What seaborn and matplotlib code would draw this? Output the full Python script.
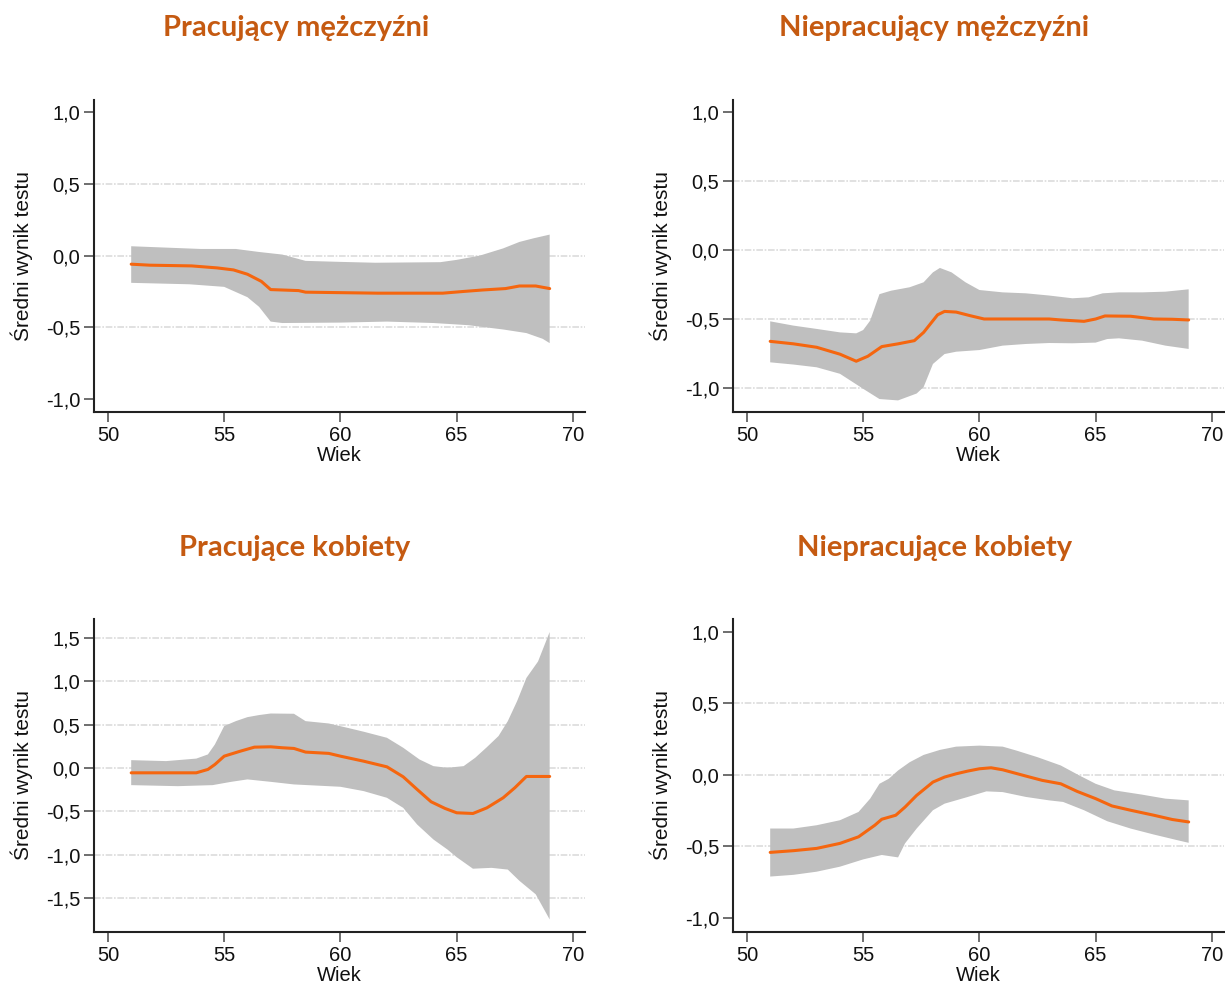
import numpy as np
import matplotlib
matplotlib.use("Agg")
import matplotlib.pyplot as plt
import seaborn as sns

# ---- Pracujący mężczyźni ----
pm_age = [51, 51.8, 53.6, 54.7, 55.4, 56.0, 56.6, 57.0, 58.2, 58.5, 61.6, 64.4, 65.3, 66.1, 67.1, 67.7, 68.4, 69]
pm_mean = [-0.06, -0.067, -0.072, -0.086, -0.10, -0.13, -0.18, -0.237, -0.244, -0.255, -0.262, -0.262, -0.25, -0.24, -0.23, -0.212, -0.212, -0.23]
pm_hi_age = [51, 54, 55.5, 56.5, 57.5, 58.5, 60, 61.5, 64.3, 65, 66, 67, 67.7, 68.3, 69]
pm_hi = [0.065, 0.046, 0.046, 0.025, 0.007, -0.037, -0.044, -0.05, -0.046, -0.03, 0.0, 0.05, 0.095, 0.12, 0.146]
pm_lo_age = [51, 53.5, 55, 56, 56.5, 57, 57.5, 60, 62, 64, 65.5, 67, 68, 68.7, 69]
pm_lo = [-0.19, -0.2, -0.218, -0.29, -0.357, -0.46, -0.47, -0.467, -0.46, -0.47, -0.485, -0.515, -0.54, -0.58, -0.61]

# ---- Niepracujący mężczyźni ----
nm_age = [51, 52, 53, 54, 54.7, 55.2, 55.8, 56.5, 57.2, 57.6, 58.2, 58.5, 59, 59.6, 60.2, 63, 63.5, 64.5, 65, 65.4, 66.5, 67.5, 68.3, 69]
nm_mean = [-0.662, -0.68, -0.705, -0.755, -0.806, -0.77, -0.70, -0.68, -0.657, -0.597, -0.47, -0.445, -0.45, -0.476, -0.5, -0.5, -0.507, -0.517, -0.5, -0.478, -0.48, -0.5, -0.502, -0.507]
nm_hi_age = [51, 52, 53, 54, 54.7, 55, 55.3, 55.7, 56.2, 57, 57.6, 58, 58.3, 58.8, 59.4, 60, 61, 62, 63, 64, 64.7, 65.3, 66, 67, 68, 69]
nm_hi = [-0.517, -0.548, -0.572, -0.597, -0.604, -0.58, -0.512, -0.32, -0.295, -0.27, -0.234, -0.162, -0.13, -0.162, -0.234, -0.29, -0.307, -0.314, -0.33, -0.35, -0.343, -0.314, -0.307, -0.307, -0.302, -0.285]
nm_lo_age = [51, 52, 53, 54, 55, 55.7, 56.5, 57.3, 57.6, 58, 58.5, 59, 60, 61, 62, 63, 64, 65, 65.5, 66, 67, 68, 69]
nm_lo = [-0.814, -0.83, -0.85, -0.897, -1.006, -1.08, -1.09, -1.04, -0.993, -0.826, -0.754, -0.737, -0.725, -0.693, -0.681, -0.674, -0.676, -0.671, -0.645, -0.64, -0.657, -0.693, -0.717]

# ---- Pracujące kobiety ----
pk_age = [51, 53.8, 54.3, 54.6, 55, 55.7, 56.3, 57, 57.5, 58, 58.5, 59.5, 60, 61, 62, 62.7, 63.3, 63.9, 64.5, 65, 65.7, 66.3, 67, 67.5, 68, 69]
pk_mean = [-0.054, -0.054, -0.015, 0.042, 0.138, 0.196, 0.242, 0.246, 0.235, 0.227, 0.185, 0.17, 0.138, 0.08, 0.015, -0.1, -0.246, -0.388, -0.465, -0.515, -0.523, -0.458, -0.342, -0.227, -0.096, -0.096]
pk_hi_age = [51, 52.5, 53.8, 54.3, 54.6, 55, 55.5, 56, 56.5, 57, 58, 58.5, 59.5, 60.3, 61, 62, 62.7, 63.4, 64, 64.6, 65.3, 65.8, 66.3, 66.8, 67.2, 67.6, 68, 68.5, 69]
pk_hi = [0.092, 0.081, 0.11, 0.158, 0.273, 0.485, 0.542, 0.588, 0.612, 0.63, 0.627, 0.542, 0.515, 0.465, 0.42, 0.35, 0.235, 0.1, 0.023, 0.004, 0.023, 0.12, 0.242, 0.37, 0.542, 0.773, 1.04, 1.23, 1.57]
pk_lo_age = [51, 53, 54.5, 55.3, 56, 57, 58, 60, 61, 62, 62.7, 63.3, 64, 64.6, 65, 65.7, 66.5, 67.2, 67.7, 68.4, 69]
pk_lo = [-0.196, -0.208, -0.196, -0.158, -0.13, -0.158, -0.188, -0.215, -0.265, -0.342, -0.458, -0.65, -0.823, -0.938, -1.027, -1.16, -1.15, -1.17, -1.3, -1.455, -1.745]

# ---- Niepracujące kobiety ----
nk_age = [51, 52, 53, 54, 54.8, 55.5, 55.8, 56.4, 56.8, 57.3, 58, 58.5, 59, 59.5, 60, 60.5, 61, 62, 62.7, 63.5, 64.2, 65, 65.7, 66.5, 67.5, 68.3, 69]
nk_mean = [-0.543, -0.531, -0.515, -0.48, -0.434, -0.353, -0.311, -0.283, -0.226, -0.144, -0.051, -0.016, 0.007, 0.026, 0.042, 0.049, 0.035, -0.009, -0.039, -0.063, -0.116, -0.167, -0.218, -0.248, -0.283, -0.313, -0.33]
nk_hi_age = [51, 52, 53, 54, 54.8, 55.3, 55.7, 56.1, 56.5, 57, 57.6, 58.3, 59, 60, 61, 61.6, 62.5, 63.5, 64.3, 65, 65.8, 67, 68, 69]
nk_hi = [-0.376, -0.376, -0.353, -0.318, -0.26, -0.167, -0.063, -0.028, 0.03, 0.088, 0.139, 0.174, 0.197, 0.204, 0.197, 0.169, 0.123, 0.065, -0.005, -0.063, -0.109, -0.139, -0.167, -0.179]
nk_lo_age = [51, 52, 53, 54, 55, 55.8, 56.5, 56.8, 57.3, 58, 58.5, 59.5, 60.3, 61, 62, 63, 63.6, 64.5, 65.5, 66.5, 67.5, 68.5, 69]
nk_lo = [-0.712, -0.70, -0.678, -0.643, -0.592, -0.561, -0.578, -0.48, -0.376, -0.248, -0.202, -0.155, -0.116, -0.121, -0.155, -0.179, -0.19, -0.248, -0.325, -0.376, -0.418, -0.457, -0.476]

titles = ["Pracujący mężczyźni", "Niepracujący mężczyźni", "Pracujące kobiety", "Niepracujące kobiety"]
x_ticks = [50, 55, 60, 65, 70]
y_ticks = [[-1.0, -0.5, 0.0, 0.5, 1.0],
           [-1.0, -0.5, 0.0, 0.5, 1.0],
           [-1.5, -1.0, -0.5, 0.0, 0.5, 1.0, 1.5],
           [-1.0, -0.5, 0.0, 0.5, 1.0]]
grid_levels = [[-0.5, 0.0, 0.5],
               [-1.0, -0.5, 0.0, 0.5],
               [-1.5, -1.0, -0.5, 0.0, 0.5, 1.0, 1.5],
               [-0.5, 0.0, 0.5]]
y_limits = [(-1.09, 1.084), (-1.174, 1.087), (-1.89, 1.72), (-1.10, 1.09)]

panels = [
    (pm_age, pm_mean, pm_hi_age, pm_hi, pm_lo_age, pm_lo),
    (nm_age, nm_mean, nm_hi_age, nm_hi, nm_lo_age, nm_lo),
    (pk_age, pk_mean, pk_hi_age, pk_hi, pk_lo_age, pk_lo),
    (nk_age, nk_mean, nk_hi_age, nk_hi, nk_lo_age, nk_lo),
]

sns.set_theme(style="white")
plt.rcParams["font.family"] = ["Liberation Sans", "DejaVu Sans"]
LABEL_FONT = ["Liberation Sans", "DejaVu Sans"]

W, H = 1225, 983
fig = plt.figure(figsize=(W / 100, H / 100), dpi=100)

# axes boxes in pixels: left, top, right, bottom
boxes = [(94, 100, 585, 412), (733, 100, 1224, 412),
         (94, 619, 585, 932), (733, 619, 1224, 932)]
title_pos = [(296, 28), (934, 28), (295, 548), (935, 548)]

LINE = "#f5660f"
BAND = "#bfbfbf"
TITLE = "#c55a11"

for i, (box, data) in enumerate(zip(boxes, panels)):
    l, t, r, b = box
    ax = fig.add_axes([l / W, 1 - b / H, (r - l) / W, (b - t) / H])
    age, mean, hi_age, hi, lo_age, lo = data

    for g in grid_levels[i]:
        ax.axhline(g, color="#dcdcdc", lw=1.2, ls=(0, (4, 1, 1, 1)), zorder=0)

    poly_x = np.concatenate([hi_age, lo_age[::-1]])
    poly_y = np.concatenate([hi, lo[::-1]])
    ax.fill(poly_x, poly_y, color=BAND, lw=0, zorder=1)

    sns.lineplot(x=age, y=mean, color=LINE, lw=2.2, ax=ax, zorder=2)

    ax.set_xlim(49.4, 70.52)
    ax.set_ylim(*y_limits[i])
    ax.set_xticks(x_ticks)
    ax.set_xticklabels([str(v) for v in x_ticks], family=LABEL_FONT)
    ax.set_yticks(y_ticks[i])
    ax.set_yticklabels([f"{v:.1f}".replace(".", ",") for v in y_ticks[i]], family=LABEL_FONT)
    ax.tick_params(axis="both", which="major", length=7, width=1.2, color="#555555",
                   labelsize=14.5, labelcolor="#111111", pad=3, left=True, bottom=True)
    for side in ("top", "right"):
        ax.spines[side].set_visible(False)
    for side in ("left", "bottom"):
        ax.spines[side].set_color("#222222")
        ax.spines[side].set_linewidth(1.5)
    ax.set_xlabel("Wiek", fontsize=14.5, color="#111111", labelpad=0.5, family=LABEL_FONT)
    ax.set_ylabel("Średni wynik testu", fontsize=15, color="#111111", labelpad=9, family=LABEL_FONT)
    ax.grid(False)
    ax.set_facecolor("white")

    tx, ty = title_pos[i]
    fig.text(tx / W, 1 - ty / H, titles[i], ha="center", va="center",
             fontsize=21, fontweight="bold", color=TITLE, family=["Lato", "DejaVu Sans"])

fig.savefig("out.png", dpi=100, facecolor="white")
